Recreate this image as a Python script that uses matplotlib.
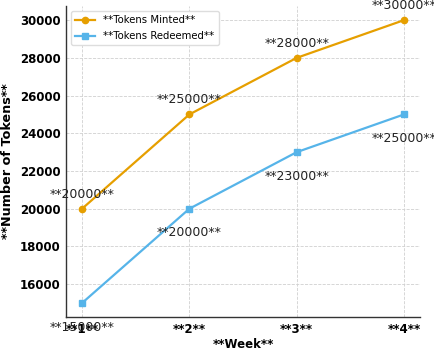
import matplotlib.pyplot as plt

weeks = [1, 2, 3, 4]
week_labels = ["**1**", "**2**", "**3**", "**4**"]
minted = [20000, 25000, 28000, 30000]
redeemed = [15000, 20000, 23000, 25000]

fig, ax = plt.subplots(figsize=(4.34, 3.52), dpi=100)
fig.subplots_adjust(left=0.152, right=0.968, top=0.983, bottom=0.099)

ax.plot(weeks, minted, marker='o', color='#E69F00', lw=1.6, ms=4.5,
        label='**Tokens Minted**')
ax.plot(weeks, redeemed, marker='s', color='#56B4E9', lw=1.6, ms=4.5,
        label='**Tokens Redeemed**')

for x, y in zip(weeks, minted):
    ax.annotate(f"**{y}**", (x, y), textcoords="offset points", xytext=(0, 8),
                ha='center', fontsize=9, color='#222222', annotation_clip=False)
for x, y in zip(weeks, redeemed):
    ax.annotate(f"**{y}**", (x, y), textcoords="offset points", xytext=(0, -20),
                ha='center', fontsize=9, color='#222222', annotation_clip=False)

ax.set_xticks(weeks)
ax.set_xticklabels(week_labels)
ax.set_xlabel("**Week**", fontsize=8.5, fontweight='bold', labelpad=1.5)
ax.set_ylabel("**Number of Tokens**", fontsize=9.2, fontweight='bold')
for lab in ax.get_xticklabels() + ax.get_yticklabels():
    lab.set_fontweight('bold')
    lab.set_fontsize(8.5)
ax.tick_params(length=0, pad=4)

ax.grid(True, ls='--', lw=0.6, color='#d0d0d0')
ax.set_axisbelow(True)
for s in ['top', 'right']:
    ax.spines[s].set_visible(False)
for s in ['left', 'bottom']:
    ax.spines[s].set_color('#333333')
    ax.spines[s].set_linewidth(1.0)

ax.legend(loc='upper left', fontsize=7.3, frameon=True, framealpha=1,
          edgecolor='#dddddd', labelspacing=0.6)

fig.savefig("out.png", dpi=100)
